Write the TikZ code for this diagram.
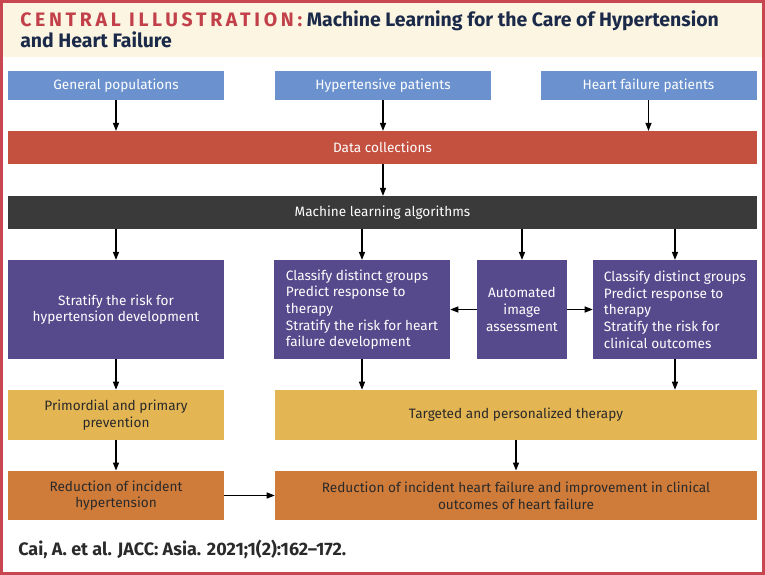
\documentclass[tikz,border=0pt]{standalone}
\usepackage{fontspec}
\setmainfont{Fira Sans}
\usetikzlibrary{positioning,arrows.meta}

\definecolor{framered}{HTML}{C8464F}
\definecolor{titlecream}{HTML}{FBF5E1}
\definecolor{titlered}{HTML}{C2404A}
\definecolor{titlenavy}{HTML}{1C2A4A}
\definecolor{popblue}{HTML}{6B92CE}
\definecolor{datared}{HTML}{C4503F}
\definecolor{mlgray}{HTML}{3A3A3A}
\definecolor{taskpurple}{HTML}{564A8C}
\definecolor{therapyyellow}{HTML}{E3B553}
\definecolor{outcomeorange}{HTML}{CF7B3A}
\definecolor{inktext}{HTML}{2A2A2A}

\begin{document}
\begin{tikzpicture}
            [x=0.75pt, y=-0.75pt,
             box/.style = {rectangle, inner sep=0pt, align=center,
                           font=\fontsize{10.2}{12.5}\selectfont},
             pop/.style = {box, fill=popblue, text=white, minimum width=162pt, minimum height=21.75pt},
             bar/.style = {box, text=white, minimum width=561.75pt, minimum height=24.5pt},
             task/.style = {box, fill=taskpurple, text=white, minimum height=74pt},
             therapy/.style = {box, fill=therapyyellow, text=inktext, minimum height=37.5pt},
             outcome/.style = {box, fill=outcomeorange, text=inktext, minimum height=37pt},
             arr/.style = {-{Triangle[length=6pt,width=4.5pt]}, line width=1pt, black}]

            \useasboundingbox (0,0) rectangle (765,575);

            % title band and frame
            \fill[titlecream] (3,3) rectangle (762,57);
            \draw[framered, line width=2.4pt] (1.6,1.6) rectangle (763.4,573.4);
            \node[anchor=base west, inner sep=0pt, font=\fontsize{14.6}{17}\selectfont\bfseries] (title) at (20,26)
                {\textcolor{titlered}{\addfontfeature{LetterSpace=19}CENTRAL ILLUSTRATION:}
                 \textcolor{titlenavy}{Machine Learning for the Care of Hypertension}};
            \node[anchor=base west, inner sep=0pt, font=\fontsize{14.6}{17}\selectfont\bfseries,
                  text=titlenavy] (title2) at (20,47) {and Heart Failure};

            % inputs
            \node[pop] (gen) at (116,85.5) {General populations};
            \node[pop] (hyp) at (383,85.5) {Hypertensive patients};
            \node[pop] (hf) at (648.5,85.5) {Heart failure patients};

            \node[bar, fill=datared] (data) at (382.5,147.5) {Data collections};
            \node[bar, fill=mlgray] (ml) at (382.5,212.5) {Machine learning algorithms};

            % tasks
            \node[task, minimum width=162pt] (risk) at (116,309.5)
                {Stratify the risk for\\hypertension development};
            \node[task, minimum width=132pt, align=left] (classhf) at (362,309.5)
                {Classify distinct groups\\Predict response to\\therapy\\Stratify the risk for heart\\failure development};
            \node[task, minimum width=67.5pt] (auto) at (522,309.5)
                {Automated\\image\\assessment};
            \node[task, minimum width=123pt, align=left] (classout) at (675,309.5)
                {Classify distinct groups\\Predict response to\\therapy\\Stratify the risk for\\clinical outcomes};

            % therapy
            \node[therapy, minimum width=162pt] (prev) at (116,415)
                {Primordial and primary\\prevention};
            \node[therapy, minimum width=361.5pt] (ther) at (516,415)
                {Targeted and personalized therapy};

            % outcomes
            \node[outcome, minimum width=162pt] (redhyp) at (116,495.5)
                {Reduction of incident\\hypertension};
            \node[outcome, minimum width=361.5pt] (redhf) at (516,495.5)
                {Reduction of incident heart failure and improvement in clinical\\outcomes of heart failure};

            \node[anchor=base west, inner sep=0pt, text=inktext,
                  font=\fontsize{13.5}{15}\selectfont\bfseries] (cite) at (18,555)
                {Cai, A. et al. JACC: Asia. 2021;1(2):162--172.};

            % connectors
            \draw[arr] (gen) -- (gen |- data.north);
            \draw[arr] (hyp) -- (hyp |- data.north);
            \draw[arr] (hf) -- (hf |- data.north);
            \draw[arr] (data.south -| hyp) -- (ml.north -| hyp);
            \draw[arr] (ml.south -| risk) -- (risk);
            \draw[arr] (ml.south -| classhf) -- (classhf);
            \draw[arr] (ml.south -| auto) -- (auto);
            \draw[arr] (ml.south -| classout) -- (classout);
            \draw[arr] (auto) -- (classhf);
            \draw[arr] (auto) -- (classout);
            \draw[arr] (risk) -- (prev);
            \draw[arr] (classhf) -- (classhf |- ther.north);
            \draw[arr] (classout) -- (classout |- ther.north);
            \draw[arr] (prev) -- (redhyp);
            \draw[arr] (ther) -- (redhf);
            \draw[arr] (redhyp) -- (redhf);

        \end{tikzpicture}
\end{document}
